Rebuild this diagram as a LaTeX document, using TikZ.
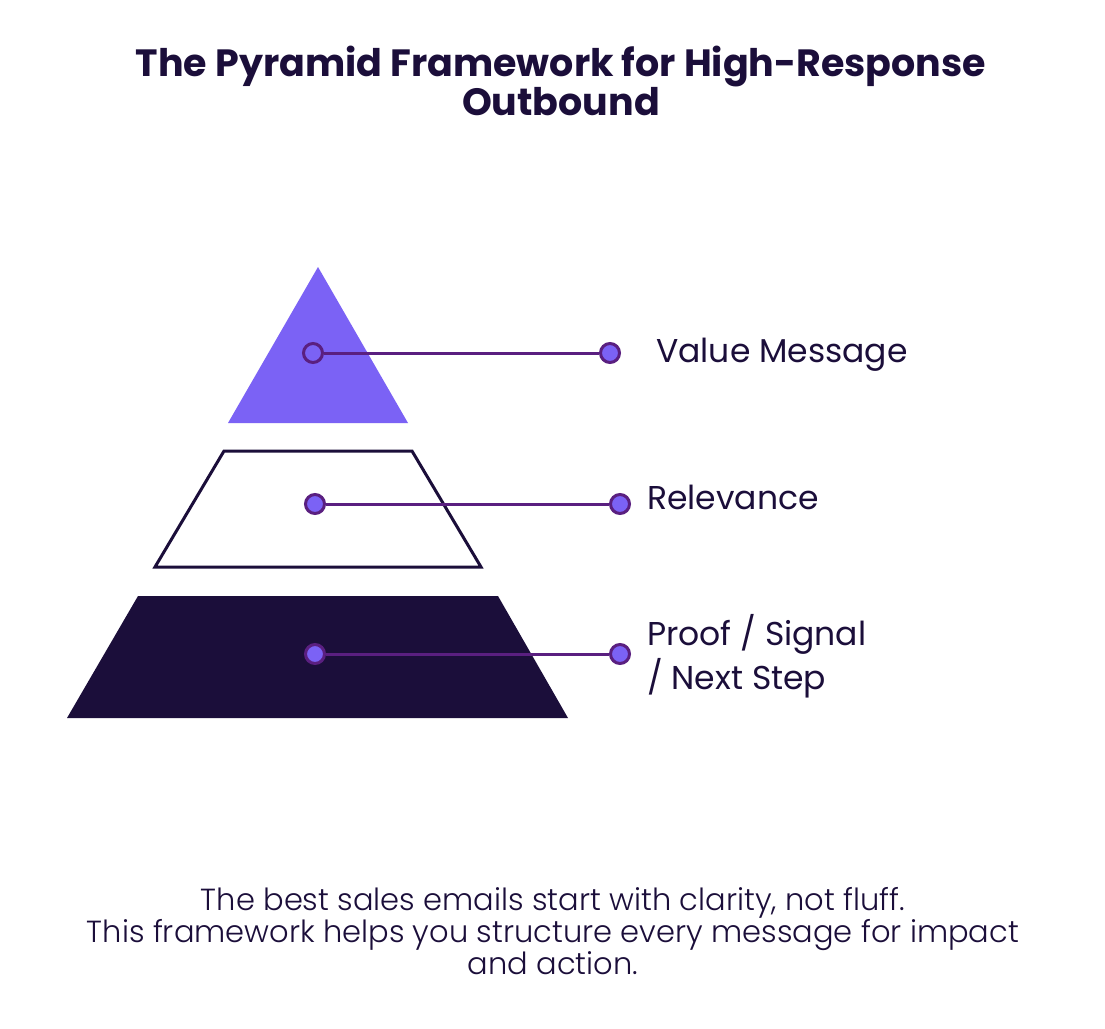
\documentclass[tikz,border=0pt]{standalone}
\usepackage{fontspec}
\setmainfont{Poppins}
\newfontfamily\lightfont{Poppins Light}
\definecolor{navy}{HTML}{1B0E3A}
\definecolor{violet}{HTML}{7B62F5}
\definecolor{plum}{HTML}{5A1F80}
\tikzset{
  dot/.style={circle,draw=plum,fill=violet,line width=3pt,minimum size=19pt,inner sep=0pt},
  link/.style={draw=plum,line width=3pt},
  tag/.style={anchor=west,text=navy,font=\fontsize{33}{44}\selectfont,align=left,inner sep=0pt}
}
\begin{document}
\begin{tikzpicture}[x=1pt,y=-1pt]
            \useasboundingbox[fill=white] (0,0) rectangle (1105,1028);
            \node[text=navy,align=center,font=\fontsize{38}{39}\selectfont\bfseries] (title) at (561,81)
                {The Pyramid Framework for High-Response\\Outbound};

            \fill[violet] (318,267) -- (408,423) -- (228,423) -- cycle;
            \draw[navy,line width=3pt] (224,451) -- (412,451) -- (481,567) -- (155,567) -- cycle;
            \fill[navy] (138,596) -- (498,596) -- (568,718) -- (67,718) -- cycle;

            \node[dot] (top) at (313,353) {};
            \node[dot] (mid) at (315,504) {};
            \node[dot] (low) at (315,654) {};
            \node[dot] (topend) at (610,353) {};
            \node[dot] (midend) at (620,504) {};
            \node[dot] (lowend) at (620,654) {};

            \path[link] (top) edge (topend);
            \path[link] (mid) edge (midend);
            \path[link] (low) edge (lowend);

            \node[tag] (value) at (656,355) {Value Message};
            \node[tag] (relevance) at (647,497) {Relevance};
            \node[tag] (proof) at (647,656) {Proof / Signal\\/ Next Step};

            \node[text=navy,align=center,font=\lightfont\fontsize{30.5}{30}\selectfont] (note) at (553,931)
                {The best sales emails start with clarity, not fluff.\\This framework helps you structure every message for impact\\and action.};
\end{tikzpicture}
\end{document}
